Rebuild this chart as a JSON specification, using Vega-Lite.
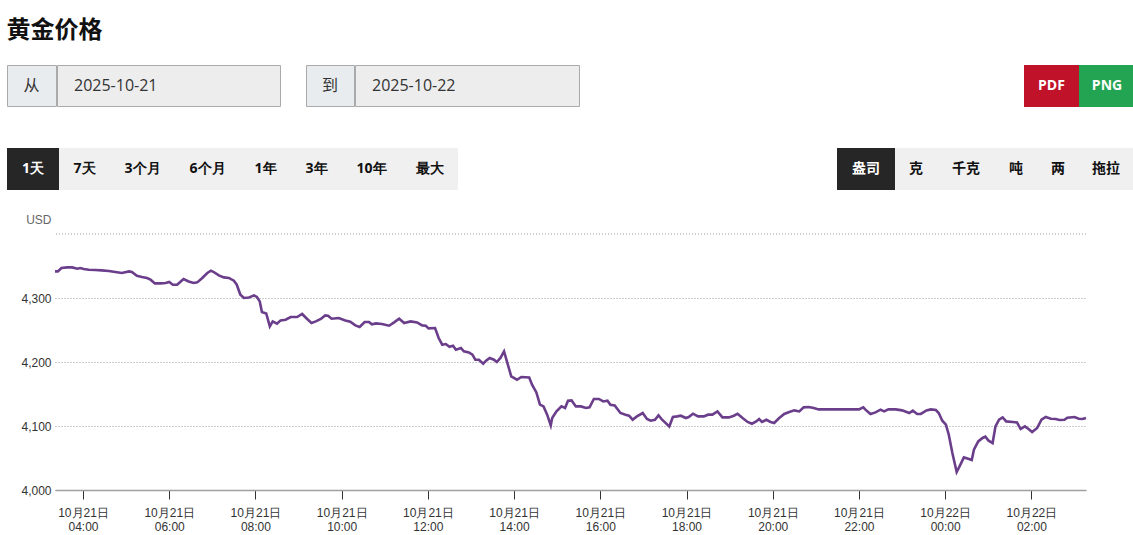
{
  "$schema": "https://vega.github.io/schema/vega-lite/v6.json",
  "padding": {"left": 6, "top": 18, "right": 0, "bottom": 0},
  "spacing": 23,
  "title": {"text": "黄金价格", "anchor": "start", "fontSize": 24, "fontWeight": "bold", "font": "Noto Sans CJK SC", "color": "#111111", "offset": 22},
  "config": {"view": {"stroke": null}},
  "vconcat": [
    {
      "vconcat": [
        {
          "hconcat": [
            {
              "hconcat": [
                {
                  "hconcat": [
                    {"width": 49, "height": 41, "view": {"fill": "#e9ecef", "stroke": "#aaaaaa"}, "data": {"values": [{"label": "从"}]}, "mark": {"type": "text", "font": "Noto Sans CJK SC", "fontSize": 16, "color": "#333333"}, "encoding": {"text": {"field": "label"}}},
                    {"width": 223, "height": 41, "view": {"fill": "#ededed", "stroke": "#aaaaaa"}, "data": {"values": [{"label": "2025-10-21"}]}, "mark": {"type": "text", "font": "Open Sans", "fontSize": 16, "color": "#333333", "align": "left", "dx": -94.5}, "encoding": {"text": {"field": "label"}}}
                  ],
                  "spacing": -2
                },
                {
                  "hconcat": [
                    {"width": 48, "height": 41, "view": {"fill": "#e9ecef", "stroke": "#aaaaaa"}, "data": {"values": [{"label": "到"}]}, "mark": {"type": "text", "font": "Noto Sans CJK SC", "fontSize": 16, "color": "#333333"}, "encoding": {"text": {"field": "label"}}},
                    {"width": 224, "height": 41, "view": {"fill": "#ededed", "stroke": "#aaaaaa"}, "data": {"values": [{"label": "2025-10-22"}]}, "mark": {"type": "text", "font": "Open Sans", "fontSize": 16, "color": "#333333", "align": "left", "dx": -95}, "encoding": {"text": {"field": "label"}}}
                  ],
                  "spacing": -2
                }
              ],
              "spacing": 24
            },
            {
              "hconcat": [
                {"width": 55, "height": 42, "view": {"fill": "#c0132a"}, "data": {"values": [{"label": "PDF"}]}, "mark": {"type": "text", "font": "Open Sans", "fontSize": 14, "fontWeight": "bold", "color": "#ffffff"}, "encoding": {"text": {"field": "label"}}},
                {"width": 56, "height": 42, "view": {"fill": "#23a453"}, "data": {"values": [{"label": "PNG"}]}, "mark": {"type": "text", "font": "Open Sans", "fontSize": 14, "fontWeight": "bold", "color": "#ffffff"}, "encoding": {"text": {"field": "label"}}}
              ],
              "spacing": 0
            }
          ],
          "spacing": 444
        },
        {
          "hconcat": [
            {
              "hconcat": [
                {"width": 52, "height": 42, "view": {"fill": "#262626"}, "data": {"values": [{"label": "1天"}]}, "mark": {"type": "text", "font": "Open Sans", "fontSize": 14, "fontWeight": "bold", "color": "#ffffff"}, "encoding": {"text": {"field": "label"}}},
                {"width": 51, "height": 42, "view": {"fill": "#f0f0f0"}, "data": {"values": [{"label": "7天"}]}, "mark": {"type": "text", "font": "Open Sans", "fontSize": 14, "fontWeight": "bold", "color": "#111111"}, "encoding": {"text": {"field": "label"}}},
                {"width": 65, "height": 42, "view": {"fill": "#f0f0f0"}, "data": {"values": [{"label": "3个月"}]}, "mark": {"type": "text", "font": "Open Sans", "fontSize": 14, "fontWeight": "bold", "color": "#111111"}, "encoding": {"text": {"field": "label"}}},
                {"width": 65, "height": 42, "view": {"fill": "#f0f0f0"}, "data": {"values": [{"label": "6个月"}]}, "mark": {"type": "text", "font": "Open Sans", "fontSize": 14, "fontWeight": "bold", "color": "#111111"}, "encoding": {"text": {"field": "label"}}},
                {"width": 51, "height": 42, "view": {"fill": "#f0f0f0"}, "data": {"values": [{"label": "1年"}]}, "mark": {"type": "text", "font": "Open Sans", "fontSize": 14, "fontWeight": "bold", "color": "#111111"}, "encoding": {"text": {"field": "label"}}},
                {"width": 51, "height": 42, "view": {"fill": "#f0f0f0"}, "data": {"values": [{"label": "3年"}]}, "mark": {"type": "text", "font": "Open Sans", "fontSize": 14, "fontWeight": "bold", "color": "#111111"}, "encoding": {"text": {"field": "label"}}},
                {"width": 59, "height": 42, "view": {"fill": "#f0f0f0"}, "data": {"values": [{"label": "10年"}]}, "mark": {"type": "text", "font": "Open Sans", "fontSize": 14, "fontWeight": "bold", "color": "#111111"}, "encoding": {"text": {"field": "label"}}},
                {"width": 57, "height": 42, "view": {"fill": "#f0f0f0"}, "data": {"values": [{"label": "最大"}]}, "mark": {"type": "text", "font": "Open Sans", "fontSize": 14, "fontWeight": "bold", "color": "#111111"}, "encoding": {"text": {"field": "label"}}}
              ],
              "spacing": 0
            },
            {
              "hconcat": [
                {"width": 58, "height": 42, "view": {"fill": "#262626"}, "data": {"values": [{"label": "盎司"}]}, "mark": {"type": "text", "font": "Noto Sans CJK SC", "fontSize": 14, "fontWeight": "bold", "color": "#ffffff"}, "encoding": {"text": {"field": "label"}}},
                {"width": 42, "height": 42, "view": {"fill": "#f0f0f0"}, "data": {"values": [{"label": "克"}]}, "mark": {"type": "text", "font": "Noto Sans CJK SC", "fontSize": 14, "fontWeight": "bold", "color": "#111111"}, "encoding": {"text": {"field": "label"}}},
                {"width": 58, "height": 42, "view": {"fill": "#f0f0f0"}, "data": {"values": [{"label": "千克"}]}, "mark": {"type": "text", "font": "Noto Sans CJK SC", "fontSize": 14, "fontWeight": "bold", "color": "#111111"}, "encoding": {"text": {"field": "label"}}},
                {"width": 42, "height": 42, "view": {"fill": "#f0f0f0"}, "data": {"values": [{"label": "吨"}]}, "mark": {"type": "text", "font": "Noto Sans CJK SC", "fontSize": 14, "fontWeight": "bold", "color": "#111111"}, "encoding": {"text": {"field": "label"}}},
                {"width": 42, "height": 42, "view": {"fill": "#f0f0f0"}, "data": {"values": [{"label": "两"}]}, "mark": {"type": "text", "font": "Noto Sans CJK SC", "fontSize": 14, "fontWeight": "bold", "color": "#111111"}, "encoding": {"text": {"field": "label"}}},
                {"width": 54, "height": 42, "view": {"fill": "#f0f0f0"}, "data": {"values": [{"label": "拖拉"}]}, "mark": {"type": "text", "font": "Noto Sans CJK SC", "fontSize": 14, "fontWeight": "bold", "color": "#111111"}, "encoding": {"text": {"field": "label"}}}
              ],
              "spacing": 0
            }
          ],
          "spacing": 379
        }
      ],
      "spacing": 41
    },
    {
      "hconcat": [
        {"width": 1, "height": 256, "data": {"values": [{"label": " "}]}, "mark": {"type": "text", "opacity": 0}, "encoding": {"text": {"field": "label"}}},
        {
          "width": 1031,
          "height": 256,
          "layer": [
            {
              "data": {"values": [{"price": 4400}]},
              "mark": {"type": "rule", "color": "#9a9a9a", "strokeDash": [1, 2], "strokeWidth": 1},
              "encoding": {"y": {"field": "price", "type": "quantitative", "title": "USD"}}
            },
            {
              "data": {
                "values": [
                  {"t": "2025-10-21T03:21:00Z", "price": 4341.6},
                  {"t": "2025-10-21T03:25:00Z", "price": 4341.6},
                  {"t": "2025-10-21T03:30:00Z", "price": 4346.9},
                  {"t": "2025-10-21T03:38:00Z", "price": 4347.8},
                  {"t": "2025-10-21T03:45:00Z", "price": 4347.8},
                  {"t": "2025-10-21T03:52:00Z", "price": 4345.8},
                  {"t": "2025-10-21T03:56:00Z", "price": 4346.9},
                  {"t": "2025-10-21T04:01:00Z", "price": 4345.3},
                  {"t": "2025-10-21T04:08:00Z", "price": 4344.2},
                  {"t": "2025-10-21T04:17:00Z", "price": 4343.8},
                  {"t": "2025-10-21T04:26:00Z", "price": 4343.1},
                  {"t": "2025-10-21T04:36:00Z", "price": 4342.2},
                  {"t": "2025-10-21T04:45:00Z", "price": 4340.6},
                  {"t": "2025-10-21T04:54:00Z", "price": 4339.1},
                  {"t": "2025-10-21T05:04:00Z", "price": 4341.6},
                  {"t": "2025-10-21T05:08:00Z", "price": 4340.6},
                  {"t": "2025-10-21T05:15:00Z", "price": 4334.8},
                  {"t": "2025-10-21T05:22:00Z", "price": 4332.8},
                  {"t": "2025-10-21T05:29:00Z", "price": 4331.3},
                  {"t": "2025-10-21T05:34:00Z", "price": 4328.6},
                  {"t": "2025-10-21T05:40:00Z", "price": 4322.8},
                  {"t": "2025-10-21T05:48:00Z", "price": 4322.8},
                  {"t": "2025-10-21T05:55:00Z", "price": 4323.4},
                  {"t": "2025-10-21T06:00:00Z", "price": 4325.0},
                  {"t": "2025-10-21T06:05:00Z", "price": 4320.8},
                  {"t": "2025-10-21T06:11:00Z", "price": 4320.8},
                  {"t": "2025-10-21T06:16:00Z", "price": 4325.9},
                  {"t": "2025-10-21T06:20:00Z", "price": 4329.7},
                  {"t": "2025-10-21T06:27:00Z", "price": 4325.9},
                  {"t": "2025-10-21T06:34:00Z", "price": 4323.4},
                  {"t": "2025-10-21T06:39:00Z", "price": 4324.4},
                  {"t": "2025-10-21T06:46:00Z", "price": 4331.3},
                  {"t": "2025-10-21T06:53:00Z", "price": 4339.1},
                  {"t": "2025-10-21T06:58:00Z", "price": 4342.7},
                  {"t": "2025-10-21T07:02:00Z", "price": 4340.6},
                  {"t": "2025-10-21T07:09:00Z", "price": 4335.3},
                  {"t": "2025-10-21T07:16:00Z", "price": 4332.2},
                  {"t": "2025-10-21T07:23:00Z", "price": 4331.3},
                  {"t": "2025-10-21T07:30:00Z", "price": 4327.0},
                  {"t": "2025-10-21T07:34:00Z", "price": 4320.8},
                  {"t": "2025-10-21T07:39:00Z", "price": 4305.2},
                  {"t": "2025-10-21T07:44:00Z", "price": 4300.0},
                  {"t": "2025-10-21T07:51:00Z", "price": 4300.9},
                  {"t": "2025-10-21T07:58:00Z", "price": 4304.1},
                  {"t": "2025-10-21T08:02:00Z", "price": 4301.6},
                  {"t": "2025-10-21T08:06:00Z", "price": 4294.7},
                  {"t": "2025-10-21T08:09:00Z", "price": 4278.1},
                  {"t": "2025-10-21T08:15:00Z", "price": 4275.9},
                  {"t": "2025-10-21T08:20:00Z", "price": 4255.6},
                  {"t": "2025-10-21T08:24:00Z", "price": 4263.4},
                  {"t": "2025-10-21T08:30:00Z", "price": 4259.8},
                  {"t": "2025-10-21T08:35:00Z", "price": 4265.0},
                  {"t": "2025-10-21T08:42:00Z", "price": 4266.1},
                  {"t": "2025-10-21T08:49:00Z", "price": 4270.3},
                  {"t": "2025-10-21T08:58:00Z", "price": 4270.3},
                  {"t": "2025-10-21T09:05:00Z", "price": 4275.0},
                  {"t": "2025-10-21T09:12:00Z", "price": 4267.2},
                  {"t": "2025-10-21T09:18:00Z", "price": 4260.9},
                  {"t": "2025-10-21T09:24:00Z", "price": 4263.4},
                  {"t": "2025-10-21T09:31:00Z", "price": 4267.2},
                  {"t": "2025-10-21T09:37:00Z", "price": 4272.8},
                  {"t": "2025-10-21T09:41:00Z", "price": 4272.3},
                  {"t": "2025-10-21T09:46:00Z", "price": 4267.7},
                  {"t": "2025-10-21T09:56:00Z", "price": 4268.8},
                  {"t": "2025-10-21T10:05:00Z", "price": 4265.0},
                  {"t": "2025-10-21T10:12:00Z", "price": 4263.0},
                  {"t": "2025-10-21T10:19:00Z", "price": 4257.2},
                  {"t": "2025-10-21T10:25:00Z", "price": 4254.7},
                  {"t": "2025-10-21T10:32:00Z", "price": 4262.5},
                  {"t": "2025-10-21T10:38:00Z", "price": 4262.5},
                  {"t": "2025-10-21T10:42:00Z", "price": 4258.8},
                  {"t": "2025-10-21T10:48:00Z", "price": 4260.3},
                  {"t": "2025-10-21T10:56:00Z", "price": 4259.4},
                  {"t": "2025-10-21T11:06:00Z", "price": 4256.7},
                  {"t": "2025-10-21T11:13:00Z", "price": 4261.9},
                  {"t": "2025-10-21T11:20:00Z", "price": 4267.7},
                  {"t": "2025-10-21T11:27:00Z", "price": 4260.9},
                  {"t": "2025-10-21T11:36:00Z", "price": 4263.4},
                  {"t": "2025-10-21T11:45:00Z", "price": 4261.9},
                  {"t": "2025-10-21T11:52:00Z", "price": 4257.2},
                  {"t": "2025-10-21T11:57:00Z", "price": 4256.7},
                  {"t": "2025-10-21T12:01:00Z", "price": 4252.5},
                  {"t": "2025-10-21T12:10:00Z", "price": 4253.1},
                  {"t": "2025-10-21T12:15:00Z", "price": 4237.5},
                  {"t": "2025-10-21T12:20:00Z", "price": 4227.0},
                  {"t": "2025-10-21T12:25:00Z", "price": 4228.1},
                  {"t": "2025-10-21T12:30:00Z", "price": 4223.9},
                  {"t": "2025-10-21T12:35:00Z", "price": 4225.5},
                  {"t": "2025-10-21T12:39:00Z", "price": 4219.2},
                  {"t": "2025-10-21T12:46:00Z", "price": 4221.9},
                  {"t": "2025-10-21T12:50:00Z", "price": 4216.6},
                  {"t": "2025-10-21T12:57:00Z", "price": 4215.0},
                  {"t": "2025-10-21T13:02:00Z", "price": 4211.4},
                  {"t": "2025-10-21T13:06:00Z", "price": 4203.6},
                  {"t": "2025-10-21T13:11:00Z", "price": 4203.6},
                  {"t": "2025-10-21T13:17:00Z", "price": 4197.3},
                  {"t": "2025-10-21T13:21:00Z", "price": 4202.0},
                  {"t": "2025-10-21T13:26:00Z", "price": 4206.3},
                  {"t": "2025-10-21T13:32:00Z", "price": 4203.6},
                  {"t": "2025-10-21T13:36:00Z", "price": 4200.0},
                  {"t": "2025-10-21T13:41:00Z", "price": 4206.3},
                  {"t": "2025-10-21T13:46:00Z", "price": 4216.6},
                  {"t": "2025-10-21T13:50:00Z", "price": 4200.9},
                  {"t": "2025-10-21T13:56:00Z", "price": 4177.5},
                  {"t": "2025-10-21T14:04:00Z", "price": 4172.3},
                  {"t": "2025-10-21T14:10:00Z", "price": 4176.6},
                  {"t": "2025-10-21T14:21:00Z", "price": 4175.9},
                  {"t": "2025-10-21T14:25:00Z", "price": 4164.5},
                  {"t": "2025-10-21T14:31:00Z", "price": 4152.5},
                  {"t": "2025-10-21T14:36:00Z", "price": 4133.3},
                  {"t": "2025-10-21T14:41:00Z", "price": 4130.6},
                  {"t": "2025-10-21T14:46:00Z", "price": 4117.7},
                  {"t": "2025-10-21T14:51:00Z", "price": 4101.0},
                  {"t": "2025-10-21T14:53:00Z", "price": 4112.5},
                  {"t": "2025-10-21T14:59:00Z", "price": 4122.8},
                  {"t": "2025-10-21T15:06:00Z", "price": 4130.6},
                  {"t": "2025-10-21T15:11:00Z", "price": 4128.1},
                  {"t": "2025-10-21T15:15:00Z", "price": 4139.5},
                  {"t": "2025-10-21T15:20:00Z", "price": 4140.0},
                  {"t": "2025-10-21T15:26:00Z", "price": 4130.6},
                  {"t": "2025-10-21T15:33:00Z", "price": 4130.6},
                  {"t": "2025-10-21T15:40:00Z", "price": 4128.1},
                  {"t": "2025-10-21T15:45:00Z", "price": 4129.1},
                  {"t": "2025-10-21T15:51:00Z", "price": 4142.2},
                  {"t": "2025-10-21T15:58:00Z", "price": 4142.2},
                  {"t": "2025-10-21T16:04:00Z", "price": 4138.4},
                  {"t": "2025-10-21T16:10:00Z", "price": 4139.5},
                  {"t": "2025-10-21T16:14:00Z", "price": 4133.3},
                  {"t": "2025-10-21T16:20:00Z", "price": 4132.2},
                  {"t": "2025-10-21T16:28:00Z", "price": 4120.3},
                  {"t": "2025-10-21T16:35:00Z", "price": 4117.7},
                  {"t": "2025-10-21T16:40:00Z", "price": 4116.1},
                  {"t": "2025-10-21T16:45:00Z", "price": 4109.8},
                  {"t": "2025-10-21T16:51:00Z", "price": 4115.0},
                  {"t": "2025-10-21T16:59:00Z", "price": 4120.3},
                  {"t": "2025-10-21T17:05:00Z", "price": 4110.9},
                  {"t": "2025-10-21T17:10:00Z", "price": 4108.3},
                  {"t": "2025-10-21T17:16:00Z", "price": 4109.8},
                  {"t": "2025-10-21T17:21:00Z", "price": 4116.6},
                  {"t": "2025-10-21T17:26:00Z", "price": 4109.8},
                  {"t": "2025-10-21T17:36:00Z", "price": 4099.4},
                  {"t": "2025-10-21T17:41:00Z", "price": 4114.1},
                  {"t": "2025-10-21T17:47:00Z", "price": 4115.0},
                  {"t": "2025-10-21T17:52:00Z", "price": 4116.1},
                  {"t": "2025-10-21T17:59:00Z", "price": 4112.5},
                  {"t": "2025-10-21T18:03:00Z", "price": 4114.1},
                  {"t": "2025-10-21T18:09:00Z", "price": 4119.2},
                  {"t": "2025-10-21T18:16:00Z", "price": 4115.0},
                  {"t": "2025-10-21T18:24:00Z", "price": 4115.0},
                  {"t": "2025-10-21T18:30:00Z", "price": 4117.7},
                  {"t": "2025-10-21T18:36:00Z", "price": 4117.7},
                  {"t": "2025-10-21T18:43:00Z", "price": 4122.8},
                  {"t": "2025-10-21T18:50:00Z", "price": 4113.4},
                  {"t": "2025-10-21T18:59:00Z", "price": 4113.4},
                  {"t": "2025-10-21T19:06:00Z", "price": 4116.1},
                  {"t": "2025-10-21T19:11:00Z", "price": 4119.2},
                  {"t": "2025-10-21T19:18:00Z", "price": 4112.5},
                  {"t": "2025-10-21T19:25:00Z", "price": 4106.3},
                  {"t": "2025-10-21T19:31:00Z", "price": 4103.6},
                  {"t": "2025-10-21T19:37:00Z", "price": 4107.2},
                  {"t": "2025-10-21T19:41:00Z", "price": 4110.9},
                  {"t": "2025-10-21T19:45:00Z", "price": 4106.3},
                  {"t": "2025-10-21T19:51:00Z", "price": 4109.8},
                  {"t": "2025-10-21T19:57:00Z", "price": 4106.3},
                  {"t": "2025-10-21T20:02:00Z", "price": 4104.7},
                  {"t": "2025-10-21T20:09:00Z", "price": 4112.5},
                  {"t": "2025-10-21T20:16:00Z", "price": 4118.8},
                  {"t": "2025-10-21T20:23:00Z", "price": 4121.9},
                  {"t": "2025-10-21T20:30:00Z", "price": 4124.4},
                  {"t": "2025-10-21T20:37:00Z", "price": 4122.8},
                  {"t": "2025-10-21T20:43:00Z", "price": 4129.1},
                  {"t": "2025-10-21T20:50:00Z", "price": 4129.7},
                  {"t": "2025-10-21T20:57:00Z", "price": 4128.1},
                  {"t": "2025-10-21T21:04:00Z", "price": 4125.9},
                  {"t": "2025-10-21T22:00:00Z", "price": 4125.9},
                  {"t": "2025-10-21T22:06:00Z", "price": 4129.1},
                  {"t": "2025-10-21T22:09:00Z", "price": 4125.5},
                  {"t": "2025-10-21T22:16:00Z", "price": 4118.8},
                  {"t": "2025-10-21T22:23:00Z", "price": 4121.3},
                  {"t": "2025-10-21T22:30:00Z", "price": 4125.5},
                  {"t": "2025-10-21T22:35:00Z", "price": 4122.8},
                  {"t": "2025-10-21T22:41:00Z", "price": 4125.9},
                  {"t": "2025-10-21T22:51:00Z", "price": 4125.9},
                  {"t": "2025-10-21T23:00:00Z", "price": 4124.4},
                  {"t": "2025-10-21T23:10:00Z", "price": 4120.3},
                  {"t": "2025-10-21T23:15:00Z", "price": 4123.9},
                  {"t": "2025-10-21T23:21:00Z", "price": 4118.8},
                  {"t": "2025-10-21T23:26:00Z", "price": 4118.8},
                  {"t": "2025-10-21T23:34:00Z", "price": 4124.4},
                  {"t": "2025-10-21T23:40:00Z", "price": 4125.9},
                  {"t": "2025-10-21T23:47:00Z", "price": 4125.0},
                  {"t": "2025-10-21T23:51:00Z", "price": 4120.3},
                  {"t": "2025-10-21T23:56:00Z", "price": 4108.3},
                  {"t": "2025-10-22T00:01:00Z", "price": 4102.0},
                  {"t": "2025-10-22T00:05:00Z", "price": 4086.4},
                  {"t": "2025-10-22T00:10:00Z", "price": 4057.8},
                  {"t": "2025-10-22T00:16:00Z", "price": 4028.1},
                  {"t": "2025-10-22T00:20:00Z", "price": 4036.9},
                  {"t": "2025-10-22T00:26:00Z", "price": 4050.9},
                  {"t": "2025-10-22T00:32:00Z", "price": 4048.9},
                  {"t": "2025-10-22T00:37:00Z", "price": 4046.9},
                  {"t": "2025-10-22T00:40:00Z", "price": 4063.0},
                  {"t": "2025-10-22T00:46:00Z", "price": 4075.9},
                  {"t": "2025-10-22T00:52:00Z", "price": 4081.3},
                  {"t": "2025-10-22T00:56:00Z", "price": 4083.3},
                  {"t": "2025-10-22T01:00:00Z", "price": 4077.5},
                  {"t": "2025-10-22T01:06:00Z", "price": 4073.4},
                  {"t": "2025-10-22T01:10:00Z", "price": 4099.4},
                  {"t": "2025-10-22T01:15:00Z", "price": 4109.8},
                  {"t": "2025-10-22T01:20:00Z", "price": 4113.4},
                  {"t": "2025-10-22T01:25:00Z", "price": 4107.2},
                  {"t": "2025-10-22T01:34:00Z", "price": 4106.3},
                  {"t": "2025-10-22T01:40:00Z", "price": 4105.6},
                  {"t": "2025-10-22T01:45:00Z", "price": 4095.3},
                  {"t": "2025-10-22T01:51:00Z", "price": 4099.4},
                  {"t": "2025-10-22T01:56:00Z", "price": 4095.3},
                  {"t": "2025-10-22T02:01:00Z", "price": 4090.6},
                  {"t": "2025-10-22T02:08:00Z", "price": 4096.9},
                  {"t": "2025-10-22T02:14:00Z", "price": 4109.8},
                  {"t": "2025-10-22T02:20:00Z", "price": 4114.1},
                  {"t": "2025-10-22T02:27:00Z", "price": 4111.4},
                  {"t": "2025-10-22T02:34:00Z", "price": 4110.9},
                  {"t": "2025-10-22T02:39:00Z", "price": 4109.4},
                  {"t": "2025-10-22T02:46:00Z", "price": 4109.8},
                  {"t": "2025-10-22T02:50:00Z", "price": 4113.0},
                  {"t": "2025-10-22T03:00:00Z", "price": 4114.1},
                  {"t": "2025-10-22T03:06:00Z", "price": 4111.4},
                  {"t": "2025-10-22T03:11:00Z", "price": 4110.9},
                  {"t": "2025-10-22T03:16:00Z", "price": 4112.5}
                ]
              },
              "mark": {"type": "line", "color": "#6b3e8b", "strokeWidth": 2.6},
              "encoding": {
                "x": {
                  "field": "t", "type": "temporal",
                  "scale": {"type": "utc", "nice": false},
                  "axis": {
                    "title": null, "grid": false,
                    "values": [
                      {"year": 2025, "month": 10, "date": 21, "hours": 4, "utc": true},
                      {"year": 2025, "month": 10, "date": 21, "hours": 6, "utc": true},
                      {"year": 2025, "month": 10, "date": 21, "hours": 8, "utc": true},
                      {"year": 2025, "month": 10, "date": 21, "hours": 10, "utc": true},
                      {"year": 2025, "month": 10, "date": 21, "hours": 12, "utc": true},
                      {"year": 2025, "month": 10, "date": 21, "hours": 14, "utc": true},
                      {"year": 2025, "month": 10, "date": 21, "hours": 16, "utc": true},
                      {"year": 2025, "month": 10, "date": 21, "hours": 18, "utc": true},
                      {"year": 2025, "month": 10, "date": 21, "hours": 20, "utc": true},
                      {"year": 2025, "month": 10, "date": 21, "hours": 22, "utc": true},
                      {"year": 2025, "month": 10, "date": 22, "hours": 0, "utc": true},
                      {"year": 2025, "month": 10, "date": 22, "hours": 2, "utc": true}
                    ],
                    "labelExpr": "[utcFormat(datum.value, '%m月%d日'), utcFormat(datum.value, '%H:%M')]",
                    "labelFont": "Liberation Sans", "labelFontSize": 12, "labelColor": "#333333", "labelPadding": 8,
                    "domainColor": "#a0a0a0", "domainWidth": 1.5, "tickColor": "#333333", "tickSize": 9
                  }
                },
                "y": {
                  "field": "price", "type": "quantitative", "title": "USD",
                  "scale": {"domain": [4000, 4400], "nice": false, "zero": false},
                  "axis": {
                    "titleAngle": 0, "titleAnchor": "end", "titleAlign": "right", "titleBaseline": "line-bottom", "titleLineHeight": 28, "titlePadding": -30,
                    "titleFont": "Liberation Sans", "titleFontSize": 12, "titleFontWeight": "normal", "titleColor": "#666666",
                    "values": [4000, 4100, 4200, 4300], "format": ",.0f",
                    "labelFont": "Liberation Sans", "labelFontSize": 12, "labelColor": "#333333", "labelPadding": 4,
                    "domain": false, "ticks": false,
                    "grid": true, "gridColor": "#9a9a9a", "gridDash": [1, 2]
                  }
                }
              }
            }
          ]
        }
      ],
      "spacing": 47, "bounds": "flush"
    }
  ]
}
